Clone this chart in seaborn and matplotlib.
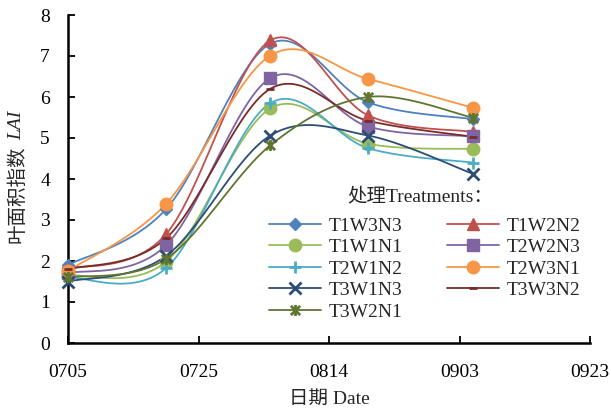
import numpy as np
import pandas as pd
import matplotlib
matplotlib.use('Agg')
import matplotlib.pyplot as plt
from matplotlib.path import Path
import seaborn as sns

# sampling dates, as days after 0705
days = [0, 15, 31, 46, 62]
tick_days = [0, 20, 40, 60, 80]
tick_labels = ['0705', '0725', '0814', '0903', '0923']

# LAI values
T1W3N3 = [1.90, 3.26, 7.30, 5.87, 5.46]
T1W2N2 = [1.80, 2.65, 7.38, 5.55, 5.15]
T1W1N1 = [1.65, 1.98, 5.72, 4.86, 4.73]
T2W2N3 = [1.70, 2.38, 6.46, 5.28, 5.04]
T2W1N2 = [1.60, 1.82, 5.85, 4.75, 4.40]
T2W3N1 = [1.76, 3.39, 7.01, 6.44, 5.74]
T3W1N3 = [1.50, 2.12, 5.06, 5.06, 4.13]
T3W3N2 = [1.80, 2.55, 6.20, 5.42, 5.03]
T3W2N1 = [1.60, 2.05, 4.82, 6.00, 5.50]

series = {
    'T1W3N3': T1W3N3, 'T1W2N2': T1W2N2, 'T1W1N1': T1W1N1,
    'T2W2N3': T2W2N3, 'T2W1N2': T2W1N2, 'T2W3N1': T2W3N1,
    'T3W1N3': T3W1N3, 'T3W3N2': T3W3N2, 'T3W2N1': T3W2N1,
}
colors = {
    'T1W3N3': '#4F81BD', 'T1W2N2': '#C0504D', 'T1W1N1': '#9BBB59',
    'T2W2N3': '#8064A2', 'T2W1N2': '#4BACC6', 'T2W3N1': '#F79646',
    'T3W1N3': '#2C4D75', 'T3W3N2': '#772C2A', 'T3W2N1': '#5F7530',
}
# excel style star: an x with a vertical bar
star = Path([(-1, -1), (1, 1), (-1, 1), (1, -1), (0, -1.2), (0, 1.2)],
            [Path.MOVETO, Path.LINETO] * 3)
markers = {
    'T1W3N3': ('D', 6), 'T1W2N2': ('^', 9), 'T1W1N1': ('o', 9),
    'T2W2N3': ('s', 9), 'T2W1N2': ('+', 8), 'T2W3N1': ('o', 9),
    'T3W1N3': ('x', 8), 'T3W3N2': ('_', 6), 'T3W2N1': (star, 8),
}


def smooth(xs, ys, n=30):
    # Excel-like smoothed line (Catmull-Rom as cubic Bezier)
    p = np.column_stack([xs, ys]).astype(float)
    ext = np.vstack([p[0], p, p[-1]])
    out = []
    t = np.linspace(0, 1, n)[:, None]
    for i in range(len(p) - 1):
        p0, p3 = ext[i + 1], ext[i + 2]
        c1 = p0 + (ext[i + 2] - ext[i]) / 6
        c2 = p3 - (ext[i + 3] - ext[i + 1]) / 6
        seg = ((1 - t) ** 3) * p0 + 3 * ((1 - t) ** 2) * t * c1 + 3 * (1 - t) * t ** 2 * c2 + t ** 3 * p3
        out.append(seg if i == 0 else seg[1:])
    out = np.vstack(out)
    return out[:, 0], out[:, 1]


sns.set_theme(style='ticks')
plt.rcParams['font.family'] = ['Liberation Serif', 'Noto Sans CJK SC']

fig = plt.figure(figsize=(6.11, 4.08), dpi=100)
ax = fig.add_axes([68 / 611, 1 - 343 / 408, (590 - 68) / 611, (343 - 15) / 408])

for name, vals in series.items():
    sx, sy = smooth(days, vals)
    c = colors[name]
    m, ms = markers[name]
    sns.lineplot(x=sx, y=sy, ax=ax, color=c, lw=1.3, sort=False, estimator=None)
    mew = 2 if m in ('+', 'x', '_') or m is star else 1
    ax.plot(days, vals, ls='none', marker=m, ms=ms, color=c, mec=c, mew=mew, clip_on=False, zorder=3)
    ax.plot([], [], color=c, lw=1.3, marker=m, ms=ms, mec=c, mew=mew, label=name)

ax.set_xlim(0, 80)
ax.set_ylim(0, 8)
ax.set_xticks(tick_days)
ax.set_xticklabels(tick_labels)
ax.set_yticks(range(0, 9))
ax.tick_params(direction='in', length=5, width=1.3, labelsize=14, colors='black')
ax.tick_params(axis='x', pad=15)
ax.tick_params(axis='y', pad=13)
for s in ['top', 'right']:
    ax.spines[s].set_visible(False)
for s in ['left', 'bottom']:
    ax.spines[s].set_linewidth(1.8)
    ax.spines[s].set_color('black')

ax.set_xlabel('日期 Date', fontsize=14, labelpad=7)
# y label: Chinese upright, LAI italic
fig.text(17 / 611, 1 - 243 / 408, '叶面积指数', rotation=90, ha='center', va='bottom', fontsize=14)
fig.text(17 / 611, 1 - 140 / 408, 'LAI', rotation=90, ha='center', va='bottom', fontsize=14, style='italic')

handles, labels = ax.get_legend_handles_labels()
order = [0, 2, 4, 6, 8, 1, 3, 5, 7]
ax.legend([handles[i] for i in order], [labels[i] for i in order],
          ncol=2, frameon=False, fontsize=14,
          loc='upper left', bbox_to_anchor=(0.37, 0.408),
          handlelength=2.7, columnspacing=2.3, labelspacing=0.2,
          handletextpad=0.35, borderaxespad=0)
ax.text(0.674, 0.448, '处理Treatments：', transform=ax.transAxes, ha='center', va='center', fontsize=14)

fig.savefig('out.png', dpi=100)
